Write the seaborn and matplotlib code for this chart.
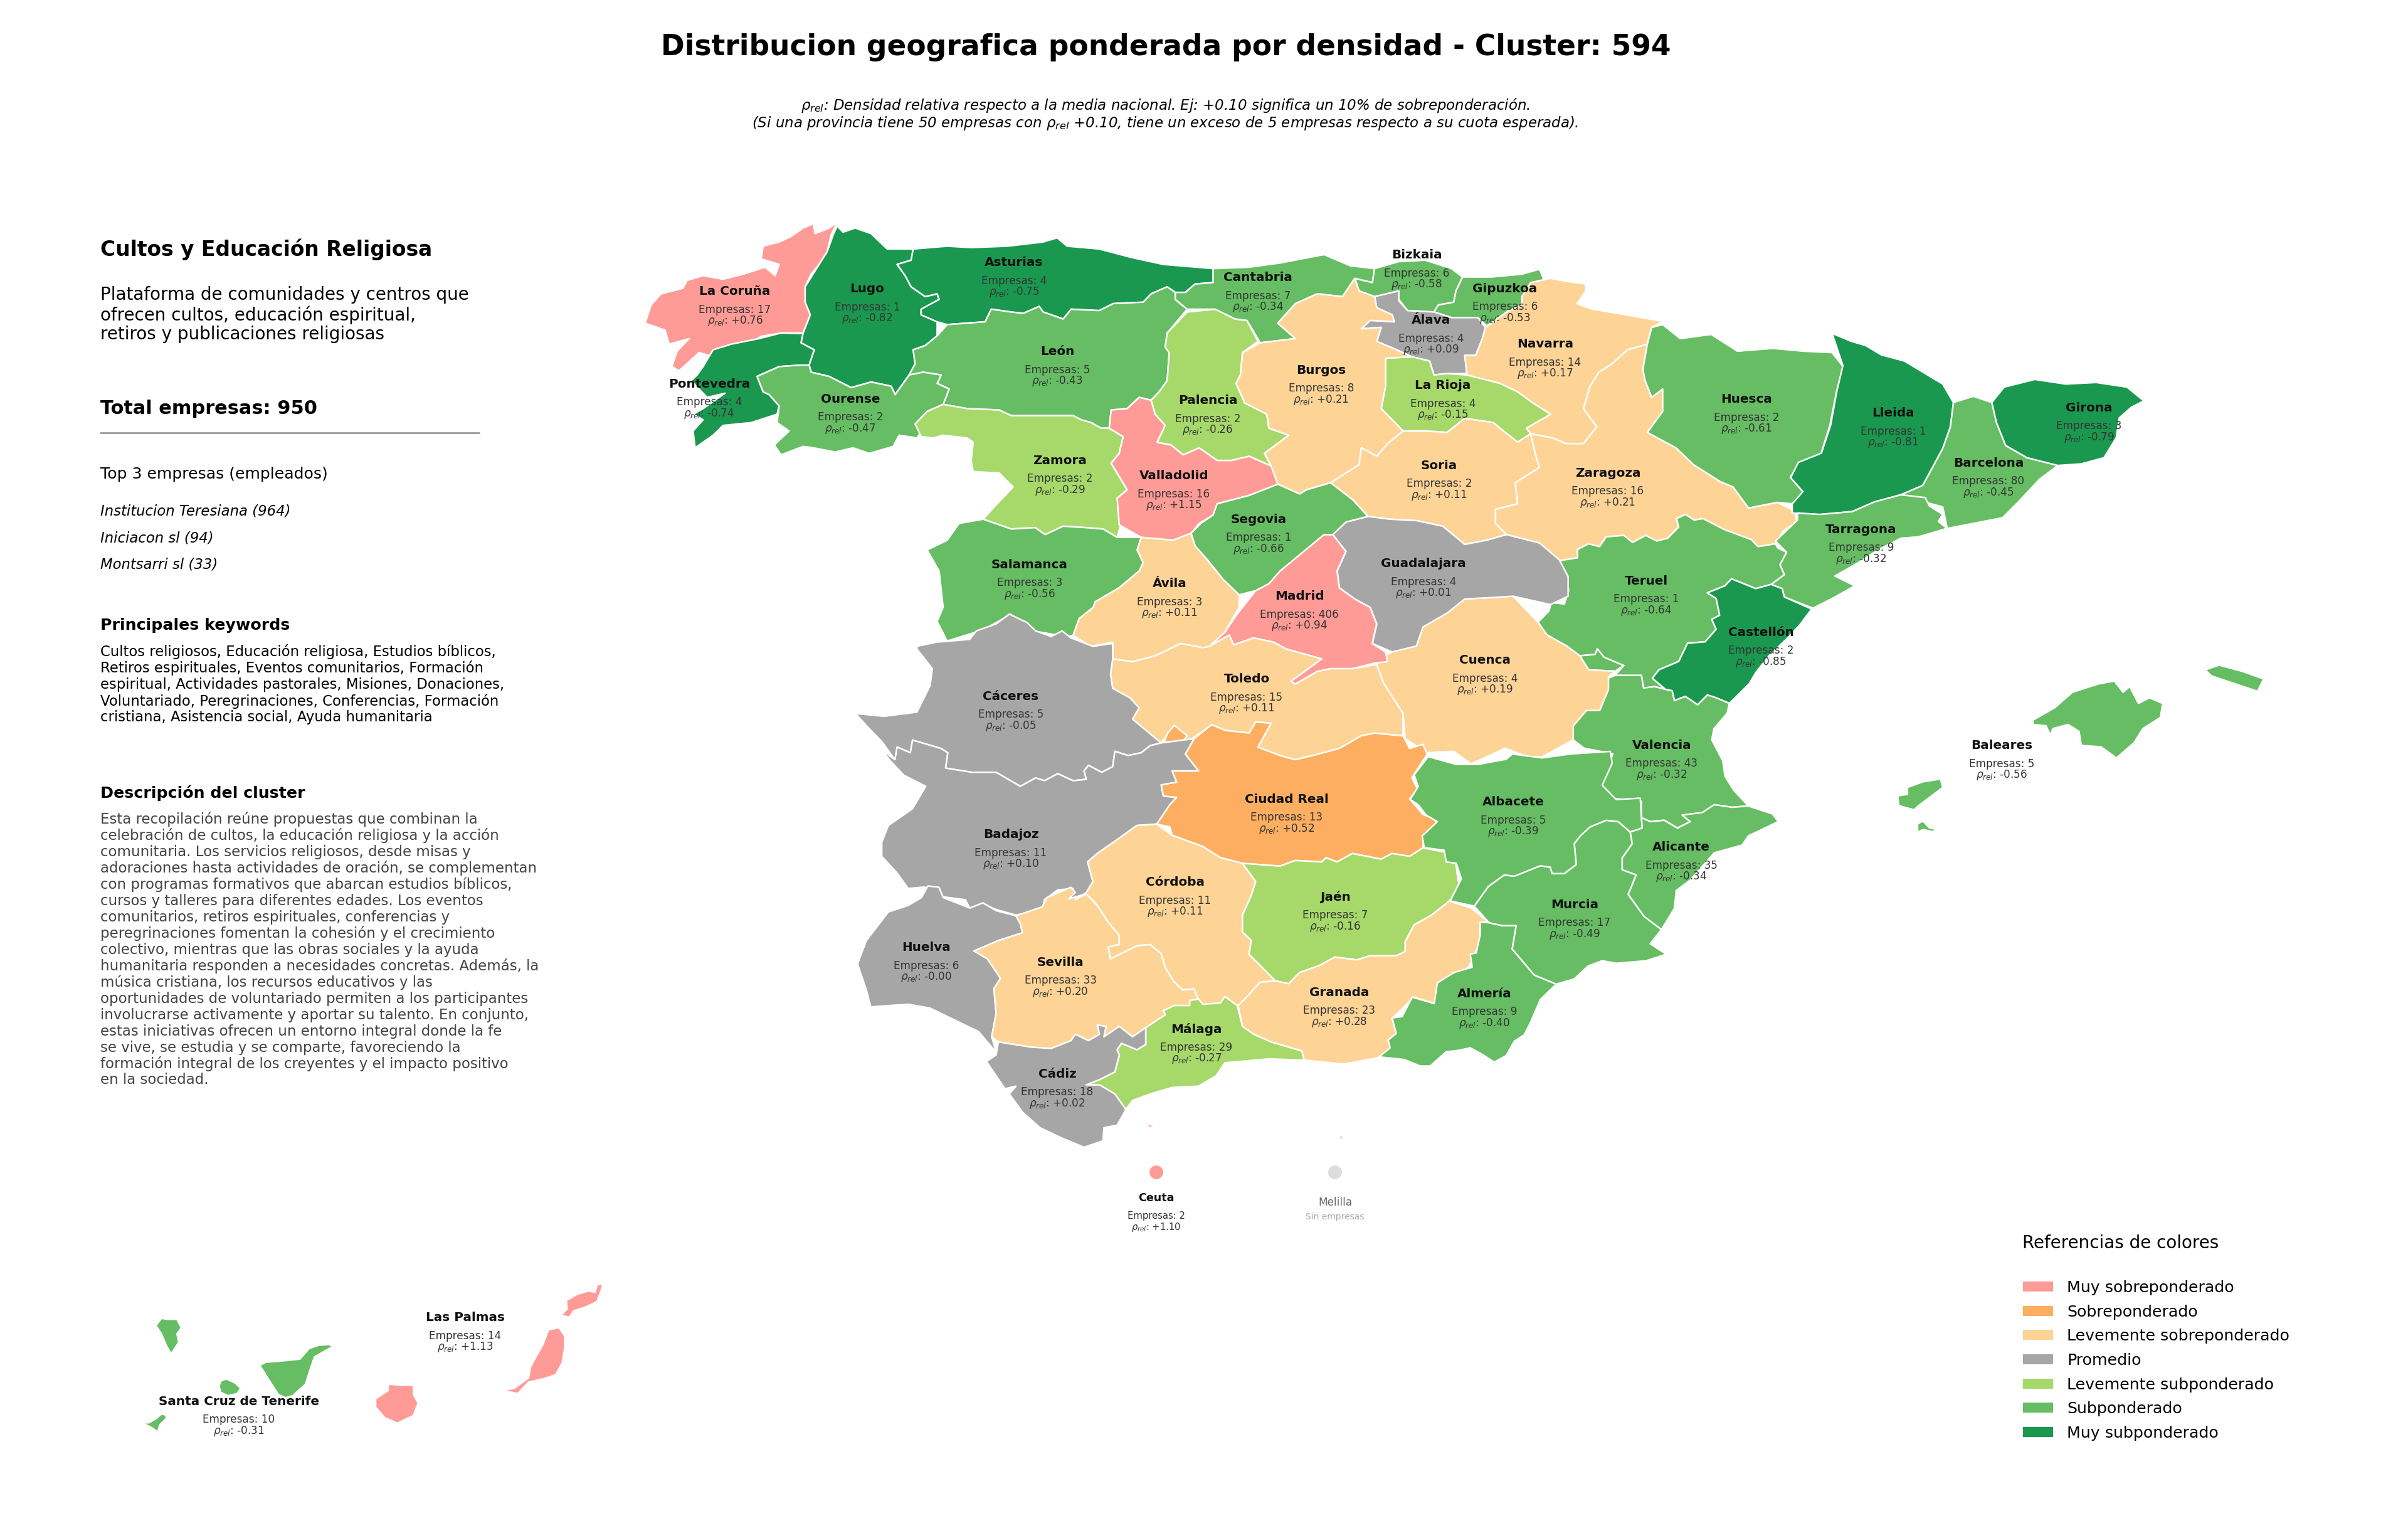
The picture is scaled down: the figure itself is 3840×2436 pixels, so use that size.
import matplotlib
matplotlib.use("Agg")
import matplotlib.pyplot as plt
from matplotlib.patches import Patch
import numpy as np
import pandas as pd
import seaborn as sns

# Outlines were traced by hand from enlarged crops of the map.
# A crop is (x0, y0, x scale, y scale) going from traced units to image pixels.
A = (1000, 330, 0.638, 0.4464)
B = (1950, 330, 0.7015, 0.4464)
C = (1350, 950, 0.7015, 0.4464)
D = (2400, 800, 0.7015, 0.4464)
E = (1350, 1400, 0.7015, 0.4145)
F = (2000, 1200, 0.638, 0.4145)
G = (180, 1950, 0.574, 0.3333)
K = (1750, 1780, 0.3333, 0.3333)
P = (0, 0, 2.449, 2.449)

la_coruna = [(525,55),(510,100),(500,160),(480,205),(460,240),(445,285),(447,340),(458,385),(440,450),(385,450),(335,462),(305,490),(250,495),(205,530),(180,520),(130,585),(112,570),(125,515),(155,470),(105,490),(95,440),(45,415),(60,350),(85,310),(140,290),(150,262),(190,245),(240,258),(290,240),(345,215),(370,245),(380,205),(335,185),(340,140),(380,125),(410,105),(440,75),(465,60),(470,95),(505,75)]
pontevedra = [(440,452),(435,485),(468,510),(455,565),(430,565),(380,570),(325,605),(340,660),(355,670),(380,710),(375,740),(310,770),(240,780),(215,815),(170,860),(165,800),(190,760),(165,740),(190,720),(245,665),(200,680),(160,620),(175,600),(190,570),(215,510),(260,490),(330,470),(385,450)]
lugo = [(525,68),(540,90),(570,75),(610,95),(650,150),(715,150),(710,190),(675,205),(695,245),(710,285),(745,320),(775,310),(780,330),(735,365),(735,385),(775,410),(775,460),(745,495),(715,510),(720,560),(705,600),(670,670),(660,640),(610,625),(560,645),(505,605),(460,590),(455,565),(468,510),(435,485),(440,450),(458,385),(445,340),(445,285),(480,205),(500,160),(515,100)]
asturias = [(715,150),(800,140),(860,145),(950,140),(1040,125),(1075,110),(1100,140),(1180,150),(1260,180),(1340,205),(1465,220),(1465,270),(1420,275),(1395,305),(1370,305),(1350,285),(1310,310),(1290,340),(1215,345),(1180,370),(1110,365),(1090,400),(1040,375),(1030,355),(990,380),(960,375),(910,365),(895,410),(800,420),(775,410),(735,385),(735,365),(780,330),(775,310),(745,320),(710,285),(695,245),(675,205),(710,190)]
leon = [(800,420),(895,410),(910,365),(960,375),(990,380),(1030,355),(1040,375),(1090,400),(1110,365),(1180,370),(1215,345),(1290,340),(1310,310),(1350,285),(1370,305),(1370,330),(1400,365),(1350,450),(1345,500),(1355,520),(1350,620),(1330,660),(1310,690),(1280,680),(1250,720),(1210,725),(1205,790),(1185,790),(1160,770),(1135,760),(1115,745),(1070,745),(990,745),(960,745),(930,725),(850,720),(790,705),(805,650),(775,630),(785,600),(740,590),(705,600),(720,560),(715,510),(745,495),(775,460)]
ourense = [(325,605),(380,570),(430,565),(455,565),(460,590),(505,605),(560,645),(610,625),(660,640),(670,670),(705,600),(740,590),(785,600),(775,630),(805,650),(790,705),(750,730),(720,775),(735,800),(725,825),(680,815),(665,855),(605,880),(565,860),(520,875),(465,860),(440,855),(385,885),(368,850),(405,800),(375,770),(380,710),(355,670),(340,660)]
zamora = [(790,705),(850,720),(930,725),(960,745),(990,745),(1070,745),(1115,745),(1135,760),(1160,770),(1185,790),(1205,790),(1240,820),(1230,880),(1210,915),(1250,1010),(1225,1040),(1235,1130),(1225,1180),(1190,1150),(1145,1145),(1090,1140),(1045,1170),(1020,1145),(960,1150),(890,1115),(915,1075),(965,1000),(930,950),(865,945),(860,905),(865,840),(850,825),(790,815),(765,825),(735,820),(720,775),(750,730)]
valladolid = [(1210,725),(1250,720),(1280,680),(1310,690),(1320,740),(1345,780),(1325,840),(1360,850),(1390,885),(1430,860),(1475,905),(1510,905),(1555,890),(1610,925),(1627,990),(1555,1030),(1475,1060),(1465,1100),(1430,1130),(1410,1165),(1365,1190),(1285,1180),(1230,1135),(1225,1040),(1250,1010),(1210,915),(1230,880),(1240,820),(1205,790)]
palencia = [(1400,375),(1470,365),(1520,400),(1549,405),(1577,480),(1538,520),(1533,600),(1522,630),(1544,700),(1599,740),(1604,790),(1654,815),(1593,880),(1610,925),(1555,890),(1510,905),(1475,905),(1430,860),(1390,885),(1360,850),(1325,840),(1345,780),(1320,740),(1310,690),(1330,660),(1350,620),(1355,520),(1345,500),(1350,450)]
salamanca = [(890,1115),(960,1150),(1020,1145),(1045,1170),(1090,1140),(1145,1145),(1190,1150),(1225,1180),(1285,1180),(1275,1225),(1290,1270),(1280,1300),(1230,1360),(1170,1410),(1165,1430),(1130,1470),(1115,1530),(1100,1535),(1000,1510),(960,1455),(890,1510),(800,1550),(775,1480),(790,1430),(780,1300),(750,1225),(800,1190),(830,1130)]
avila = [(1285,1180),(1365,1190),(1410,1165),(1420,1210),(1450,1260),(1490,1330),(1530,1385),(1530,1429),(1494,1519),(1456,1569),(1439,1574),(1384,1559),(1318,1604),(1263,1624),(1214,1614),(1214,1554),(1159,1569),(1115,1530),(1130,1470),(1165,1430),(1170,1410),(1230,1360),(1280,1300),(1290,1270),(1275,1225)]
cantabria = [(-22,220),(60,215),(130,200),(180,185),(230,170),(290,210),(345,220),(340,270),(300,255),(272,320),(215,310),(165,345),(125,415),(165,470),(85,485),(55,405),(28,400),(-17,365),(-81,365),(-108,330),(-108,305),(-85,305),(-63,275),(-22,270)]
bizkaia = [(345,220),(400,195),(460,190),(520,220),(545,250),(530,300),(525,340),(490,350),(480,375),(420,370),(400,330),(400,300),(345,320),(310,300),(300,255),(340,270)]
gipuzkoa = [(545,250),(610,250),(680,240),(720,222),(730,260),(700,270),(680,320),(680,350),(650,370),(600,425),(580,395),(520,395),(480,375),(490,350),(525,340),(530,300)]
alava = [(345,320),(400,300),(400,335),(420,370),(480,375),(520,395),(580,395),(597,430),(590,470),(575,530),(550,530),(555,595),(510,595),(480,600),(470,550),(430,535),(395,510),(350,480),(360,430),(315,435),(335,405),(390,410),(385,385),(350,360)]
navarra = [(680,320),(700,270),(745,255),(780,265),(825,275),(825,300),(805,345),(840,365),(880,375),(1000,408),(975,430),(965,490),(920,510),(885,560),(855,590),(835,640),(820,720),(850,785),(820,845),(780,845),(750,825),(700,810),(690,790),(745,740),(705,700),(670,660),(630,630),(555,600),(550,530),(575,530),(590,470),(597,430),(650,370),(680,350)]
la_rioja = [(370,540),(430,535),(470,550),(480,600),(510,595),(555,600),(630,630),(670,660),(705,700),(745,740),(690,790),(700,810),(670,840),(630,790),(615,770),(550,755),(510,805),(460,800),(440,800),(410,800),(360,720),(370,640)]
burgos = [(165,345),(215,310),(272,320),(300,255),(310,300),(345,320),(350,360),(385,385),(390,410),(335,405),(315,435),(360,430),(350,480),(395,510),(430,535),(370,540),(370,640),(360,720),(410,800),(375,845),(350,890),(315,860),(310,920),(270,960),(245,985),(190,1010),(175,1025),(125,990),(110,925),(95,880),(150,815),(105,790),(100,740),(50,700),(30,630),(40,600),(45,520),(85,485),(165,470),(125,415)]
soria = [(410,800),(440,800),(460,800),(510,805),(550,755),(615,770),(630,790),(670,840),(700,810),(710,880),(720,930),(665,985),(670,1060),(620,1080),(620,1130),(645,1170),(600,1190),(550,1205),(500,1140),(440,1120),(380,1115),(330,1105),(295,1045),(245,985),(270,960),(310,920),(315,860),(350,890),(375,845)]
zaragoza = [(700,810),(750,825),(780,845),(820,845),(850,785),(820,720),(835,640),(855,590),(885,560),(920,510),(965,490),(955,580),(960,620),(975,680),(1000,650),(1000,730),(965,805),(1030,860),(1070,920),(1130,980),(1160,1000),(1195,1075),(1260,1055),(1300,1085),(1305,1125),(1275,1155),(1256,1203),(1216,1213),(1201,1188),(1141,1153),(1091,1113),(1071,1118),(1051,1098),(1031,1113),(1036,1143),(1011,1183),(986,1193),(961,1173),(931,1198),(911,1173),(871,1178),(856,1213),(831,1203),(806,1223),(806,1253),(766,1263),(720,1200),(645,1170),(620,1130),(620,1080),(670,1060),(665,985),(720,930),(710,880)]
huesca = [(1000,420),(1040,470),(1110,455),(1170,515),(1250,505),(1320,515),(1385,520),(1410,570),(1395,660),(1380,780),(1360,880),(1310,915),(1290,965),(1320,1020),(1295,1060),(1260,1055),(1195,1075),(1160,1000),(1130,980),(1070,920),(1030,860),(965,805),(1000,730),(1000,650),(975,680),(960,620),(955,580),(965,490),(975,430)]
lleida = [(1193,217),(1205,222),(1215,225),(1225,231),(1240,235),(1255,244),(1265,250),(1272,262),(1270,278),(1265,292),(1258,305),(1252,316),(1238,322),(1220,327),(1206,333),(1185,335),(1167,334),(1167,328),(1174,320),(1166,311),(1171,301),(1186,295),(1192,277),(1196,255),(1200,238)]
barcelona = [(1272,262),(1285,258),(1297,262),(1300,275),(1306,290),(1320,298),(1340,303),(1328,312),(1314,327),(1304,337),(1268,344),(1265,330),(1254,327),(1238,322),(1252,316),(1258,305),(1265,292),(1270,278)]
girona = [(1297,262),(1305,252),(1325,247),(1345,250),(1365,249),(1385,252),(1396,261),(1388,265),(1380,272),(1378,285),(1370,298),(1355,302),(1340,303),(1320,298),(1306,290),(1300,275)]
tarragona = [(615,140),(665,65),(665,40),(715,45),(790,35),(840,0),(900,-25),(955,-15),(965,15),(995,45),(985,70),(1005,95),(940,125),(900,130),(850,170),(800,220),(750,265),(795,300),(750,340),(700,380),(635,340),(630,310),(605,295),(635,260),(625,225),(640,180)]
teruel = [(125,210),(165,200),(165,170),(190,150),(215,160),(230,125),(270,120),(290,145),(320,120),(345,140),(370,130),(395,90),(390,60),(410,45),(430,65),(450,60),(500,100),(560,135),(575,160),(615,150),(620,165),(640,180),(625,225),(635,260),(605,295),(570,310),(515,275),(500,300),(460,325),(480,345),(488,405),(470,420),(480,455),(455,500),(415,505),(395,570),(350,600),(335,630),(365,670),(340,660),(315,665),(310,620),(250,620),(270,585),(225,555),(210,525),(205,545),(170,550),(140,515),(95,475),(75,430),(100,390),(105,360),(135,365),(145,315),(125,240)]
castellon = [(515,275),(570,310),(605,295),(630,310),(635,340),(697,383),(670,440),(640,490),(600,550),(570,610),(555,650),(510,720),(480,700),(460,690),(438,725),(410,695),(385,710),(380,675),(365,670),(335,630),(350,600),(395,570),(415,505),(455,500),(480,455),(470,420),(488,405),(480,345),(460,325),(500,300)]
valencia = [(250,620),(310,620),(315,665),(340,660),(365,670),(380,675),(385,710),(410,695),(438,725),(460,690),(480,700),(510,720),(505,755),(475,810),(470,850),(495,925),(500,980),(520,1030),(553,1086),(517,1091),(476,1082),(449,1110),(403,1119),(421,1142),(392,1165),(362,1137),(330,1142),(310,1128),(310,1070),(250,1060),(220,1015),(245,900),(180,880),(155,850),(155,800),(185,745),(215,745),(235,670),(235,630)]
ademuz = [(170,550),(205,545),(210,525),(225,555),(270,585),(250,605),(190,600)]
cuenca = [(1228,210),(1255,190),(1295,179),(1310,111),(1365,61),(1405,11),(1465,6),(1515,1),(1572,94),(1592,139),(1637,179),(1667,214),(1687,264),(1747,269),(1732,289),(1732,334),(1712,409),(1682,409),(1652,464),(1652,514),(1582,574),(1547,574),(1497,544),(1420,600),(1380,555),(1320,560),(1270,510),(1265,420),(1220,310),(1205,245)]
guadalajara = [(250,1170),(280,1125),(330,1105),(380,1115),(440,1120),(500,1140),(550,1205),(600,1190),(645,1170),(720,1200),(765,1260),(785,1320),(785,1390),(745,1420),(660,1390),(610,1395),(550,1400),(510,1450),(455,1500),(440,1568),(385,1589),(340,1559),(350,1489),(335,1430),(300,1400),(265,1360),(260,1300),(280,1230)]
madrid = [(1105,-219),(1135,-159),(1115,-89),(1120,-29),(1155,11),(1190,41),(1205,100),(1195,170),(1225,200),(1230,235),(1200,240),(1150,260),(1100,260),(1070,270),(1020,315),(1010,305),(1080,225),(1000,190),(970,165),(925,150),(880,175),(870,140),(825,180),(860,130),(885,71),(930,-19),(960,-44),(985,-89),(1085,-219)]
segovia = [(125,990),(175,1025),(190,1010),(245,985),(295,1045),(330,1105),(280,1125),(250,1170),(230,1170),(130,1300),(105,1345),(75,1370),(37,1385),(1,1330),(-35,1260),(-63,1210),(-72,1165),(-50,1130),(-22,1100),(-13,1060),(60,1030)]
toledo = [(605,225),(650,235),(700,215),(760,170),(810,185),(825,180),(870,140),(880,175),(925,150),(970,165),(1000,190),(1080,225),(1010,305),(1020,315),(1070,270),(1100,260),(1150,260),(1205,245),(1220,310),(1265,420),(1265,500),(1200,490),(1170,500),(1120,545),(1060,570),(1020,585),(985,570),(935,540),(965,455),(930,450),(915,490),(860,480),(830,460),(790,505),(770,520),(745,465),(725,505),(715,525),(650,440),(665,400),(645,365),(605,330),(600,280)]
ciudad_real = [(790,510),(830,460),(860,480),(915,490),(930,450),(965,455),(935,540),(985,570),(1020,585),(1060,570),(1120,545),(1170,500),(1200,490),(1265,500),(1280,545),(1310,530),(1320,565),(1285,650),(1298,690),(1280,725),(1310,780),(1340,800),(1335,840),(1312,865),(1310,900),(1280,930),(1240,920),(1215,940),(1150,920),(1115,950),(1090,935),(1080,950),(1020,945),(985,965),(900,955),(850,935),(810,895),(740,855),(735,825),(705,815),(735,745),(750,720),(720,715),(715,675),(750,665),(740,625),(800,625),(770,565)]
ciudad_real_enclave = [(745,462),(775,500),(750,540),(720,530),(730,490)]
caceres = [(160,180),(205,165),(245,160),(280,155),(295,125),(340,100),(370,65),(410,95),(430,125),(465,145),(490,125),(510,150),(560,180),(605,170),(605,225),(600,280),(605,330),(645,365),(665,400),(650,440),(715,525),(690,535),(670,560),(640,570),(610,555),(605,610),(580,630),(550,605),(540,625),(545,655),(515,660),(480,635),(450,660),(430,650),(395,680),(340,630),(285,630),(225,615),(230,560),(215,545),(150,515),(145,560),(115,540),(110,585),(80,520),(55,480),(20,420),(85,430),(160,415),(190,320),(195,260),(160,190)]
badajoz = [(715,525),(790,510),(770,565),(800,625),(740,625),(750,665),(715,675),(720,715),(750,720),(735,745),(705,815),(660,820),(620,865),(570,920),(548,950),(560,1020),(545,1060),(520,1085),(505,1080),(515,1045),(480,1050),(450,1085),(445,1120),(385,1140),(340,1120),(310,1100),(280,1115),(270,1085),(220,1075),(205,1045),(175,1040),(140,1045),(115,990),(80,930),(80,880),(95,820),(150,760),(180,680),(130,640),(100,590),(80,550),(110,585),(115,540),(145,560),(150,515),(215,545),(230,560),(225,615),(285,630),(340,630),(395,680),(430,650),(450,660),(480,635),(515,660),(545,655),(540,625),(550,605),(580,630),(605,610),(610,555),(640,570),(670,560),(690,535)]
huelva = [(185,30),(210,35),(220,75),(280,115),(310,95),(340,125),(385,145),(395,175),(400,210),(345,240),(290,280),(320,310),(350,385),(335,425),(340,520),(330,610),(340,670),(300,590),(190,500),(140,485),(55,495),(45,430),(25,330),(45,240),(95,130),(140,105),(170,75)]
sevilla = [(385,145),(445,110),(455,75),(510,35),(520,55),(505,80),(545,60),(570,105),(595,170),(620,220),(620,255),(595,265),(600,310),(660,260),(690,255),(715,290),(725,345),(745,400),(765,430),(790,425),(800,470),(780,470),(780,490),(745,490),(720,510),(725,525),(680,575),(650,610),(620,570),(585,610),(590,570),(570,565),(575,600),(550,625),(520,600),(510,625),(465,655),(420,650),(345,630),(330,610),(340,520),(335,425),(350,385),(320,310),(290,280),(345,240),(400,210),(395,175)]
cordoba = [(660,820),(705,815),(740,855),(810,895),(850,935),(900,955),(930,1020),(920,1070),(900,1140),(900,1200),(920,1230),(915,1280),(975,1375),(940,1380),(905,1440),(890,1465),(860,1455),(850,1478),(810,1480),(800,1444),(790,1403),(765,1407),(745,1379),(725,1328),(715,1277),(690,1245),(660,1249),(600,1296),(595,1254),(620,1245),(620,1212),(595,1166),(570,1105),(545,1064),(520,1085),(545,1060),(560,1020),(548,950),(570,920),(620,865)]
jaen = [(900,955),(985,965),(1020,945),(1080,950),(1090,935),(1115,950),(1150,920),(1215,940),(1240,920),(1280,930),(1310,900),(1360,915),(1365,950),(1385,955),(1390,1015),(1395,1040),(1370,1090),(1330,1140),(1290,1175),(1270,1235),(1270,1270),(1250,1285),(1190,1285),(1160,1300),(1110,1290),(1075,1320),(1030,1345),(1005,1385),(975,1375),(915,1280),(920,1230),(900,1200),(900,1140),(920,1070),(930,1020)]
granada = [(975,1375),(1005,1385),(1030,1345),(1075,1320),(1110,1290),(1160,1300),(1190,1285),(1250,1285),(1270,1270),(1270,1235),(1290,1175),(1330,1140),(1370,1090),(1420,1115),(1455,1160),(1440,1190),(1440,1240),(1425,1285),(1415,1325),(1370,1365),(1340,1407),(1338,1456),(1290,1433),(1240,1509),(1250,1565),(1230,1588),(1240,1612),(1210,1649),(1130,1672),(1040,1658),(1035,1625),(965,1593),(925,1565),(900,1537),(890,1463),(905,1440),(940,1380)]
malaga = [(780,470),(800,465),(810,485),(850,480),(860,455),(888,490),(900,570),(925,600),(965,630),(1035,665),(1040,700),(960,695),(860,710),(840,760),(800,800),(740,805),(690,830),(650,855),(635,890),(610,830),(575,795),(545,795),(575,775),(610,745),(620,680),(615,660),(625,635),(660,660),(680,640),(680,575),(725,525),(720,510),(745,490),(780,490)]
cadiz = [(345,630),(420,650),(465,655),(510,625),(520,600),(550,625),(575,600),(570,565),(590,570),(585,610),(620,570),(650,610),(680,575),(680,640),(660,660),(625,635),(615,660),(620,680),(610,745),(575,775),(545,795),(575,795),(610,830),(635,890),(615,950),(585,960),(583,1010),(540,1035),(490,1000),(440,960),(400,900),(370,830),(385,800),(360,810),(340,760),(318,705),(340,680)]
almeria = [(565,650),(590,655),(620,665),(655,665),(645,755),(700,855),(755,890),(715,950),(690,1040),(675,1085),(650,1110),(630,1165),(600,1190),(570,1160),(540,1135),(510,1145),(480,1150),(440,1205),(415,1205),(375,1180),(312,1170),(340,1135),(335,1105),(355,1080),(345,1020),(370,1015),(395,940),(450,965),(458,885),(500,845),(545,825),(540,775),(555,770),(565,700)]
murcia = [(550,590),(585,515),(625,470),(650,475),(715,435),(740,440),(745,465),(775,465),(805,430),(800,350),(815,320),(815,300),(840,285),(880,260),(910,265),(940,305),(945,350),(920,405),(920,450),(955,470),(935,545),(975,630),(1018,680),(990,735),(1030,775),(980,800),(905,810),(870,800),(835,820),(800,870),(755,890),(700,855),(645,755),(655,665),(620,665),(590,655),(585,650)]
albacete = [(435,15),(505,45),(560,45),(630,25),(645,5),(720,20),(790,5),(890,-5),(895,40),(870,125),(905,180),(965,175),(968,250),(970,290),(940,305),(910,265),(880,260),(840,285),(815,320),(800,350),(805,430),(775,465),(745,465),(740,440),(715,435),(650,475),(625,470),(585,515),(550,590),(490,570),(518,485),(505,425),(480,420),(475,375),(425,365),(420,320),(458,265),(430,240),(410,200),(390,180),(410,130),(400,85)]
alicante = [(968,250),(990,265),(1025,260),(1058,290),(1090,265),(1070,240),(1120,230),(1150,200),(1195,210),(1235,205),(1295,235),(1310,265),(1235,320),(1220,355),(1150,385),(1090,490),(1055,530),(1050,600),(1018,680),(975,630),(935,545),(955,470),(920,450),(920,405),(945,350),(940,305),(970,290)]
mallorca = [(1200,780),(1250,735),(1290,680),(1350,650),(1385,640),(1405,680),(1420,660),(1440,720),(1465,700),(1495,720),(1490,770),(1450,810),(1430,860),(1390,915),(1355,875),(1310,870),(1305,820),(1280,795),(1245,810),(1240,835),(1230,800),(1200,795)]
menorca = [(1436,436),(1445,433),(1460,437),(1474,442),(1470,450),(1455,445),(1440,440)]
ibiza = [(893,1050),(915,1045),(915,1020),(950,1000),(990,990),(995,1020),(970,1050),(940,1085),(930,1100),(895,1085)]
formentera = [(938,1150),(950,1140),(965,1165),(985,1170),(970,1178),(950,1170),(938,1180)]
la_palma = [(120,490),(135,455),(150,460),(178,460),(190,500),(178,530),(183,570),(162,625),(150,590),(135,530)]
gomera = [(300,755),(315,745),(340,765),(355,790),(345,815),(320,825),(300,810),(295,780)]
tenerife = [(408,680),(425,665),(465,660),(520,650),(545,600),(570,585),(600,580),(612,590),(590,610),(560,640),(550,690),(535,770),(500,825),(480,835),(460,820),(430,740)]
hierro = [(80,955),(100,955),(120,935),(135,913),(148,918),(148,935),(130,965),(125,998),(105,975)]
gran_canaria = [(765,770),(800,775),(835,775),(835,820),(848,860),(835,920),(790,957),(755,930),(730,880),(730,840),(765,800)]
fuerteventura = [(1210,510),(1240,500),(1255,540),(1255,600),(1248,670),(1230,725),(1195,745),(1155,760),(1125,815),(1082,800),(1115,790),(1155,740),(1160,690),(1175,640),(1195,580)]
lanzarote = [(1245,440),(1262,410),(1260,370),(1290,340),(1320,325),(1340,330),(1345,295),(1362,290),(1355,330),(1345,375),(1315,400),(1280,420),(1268,450)]
graciosa = [(1340,275),(1345,258),(1348,270)]
ceuta_mark = [(242,37),(265,47),(250,48)]
melilla_mark = [(1160,100),(1166,90),(1174,103),(1166,110)]

# Values printed on the map
names = ["La Coruña", "Pontevedra", "Lugo", "Asturias", "León", "Ourense", "Zamora", "Valladolid", "Palencia",
         "Salamanca", "Ávila", "Cantabria", "Bizkaia", "Gipuzkoa", "Álava", "Navarra", "La Rioja", "Burgos",
         "Soria", "Zaragoza", "Huesca", "Lleida", "Barcelona", "Girona", "Tarragona", "Teruel", "Castellón",
         "Valencia", "Cuenca", "Guadalajara", "Madrid", "Segovia", "Toledo", "Ciudad Real", "Cáceres", "Badajoz",
         "Huelva", "Sevilla", "Córdoba", "Jaén", "Granada", "Málaga", "Cádiz", "Almería", "Murcia", "Albacete",
         "Alicante", "Baleares", "Santa Cruz de Tenerife", "Las Palmas"]
empresas = [17, 4, 1, 4, 5, 2, 2, 16, 2,
            3, 3, 7, 6, 6, 4, 14, 4, 8,
            2, 16, 2, 1, 80, 3, 9, 1, 2,
            43, 4, 4, 406, 1, 15, 13, 5, 11,
            6, 33, 11, 7, 23, 29, 18, 9, 17, 5,
            35, 5, 10, 14]
rho_rel = [0.76, -0.74, -0.82, -0.75, -0.43, -0.47, -0.29, 1.15, -0.26,
           -0.56, 0.11, -0.34, -0.58, -0.53, 0.09, 0.17, -0.15, 0.21,
           0.11, 0.21, -0.61, -0.81, -0.45, -0.79, -0.32, -0.64, -0.85,
           -0.32, 0.19, 0.01, 0.94, -0.66, 0.11, 0.52, -0.05, 0.10,
           -0.0, 0.20, 0.11, -0.16, 0.28, -0.27, 0.02, -0.40, -0.49, -0.39,
           -0.34, -0.56, -0.31, 1.13]
label_x = [1172, 1131, 1383, 1617, 1686, 1356, 1690, 1872, 1926,
           1642, 1865, 2006, 2259, 2400, 2282, 2464, 2301, 2107,
           2295, 2564, 2785, 3019, 3171, 3331, 2968, 2625, 2808,
           2650, 2368, 2270, 2072, 2007, 1988, 2052, 1612, 1612,
           1477, 1691, 1874, 2129, 2136, 1908, 1686, 2367, 2511, 2413,
           2681, 3192, 381, 742]
label_y = [465, 612, 461, 419, 561, 636, 734, 759, 639,
           900, 931, 443, 407, 460, 511, 549, 615, 590,
           742, 754, 637, 659, 738, 650, 844, 926, 1008,
           1188, 1053, 899, 951, 828, 1083, 1274, 1110, 1331,
           1511, 1534, 1407, 1430, 1582, 1641, 1712, 1584, 1442, 1279,
           1351, 1189, 2234, 2101]

outlines = [[(A, la_coruna)], [(A, pontevedra)], [(A, lugo)], [(A, asturias)], [(A, leon)], [(A, ourense)],
            [(A, zamora)], [(A, valladolid)], [(A, palencia)], [(A, salamanca)], [(A, avila)], [(B, cantabria)],
            [(B, bizkaia)], [(B, gipuzkoa)], [(B, alava)], [(B, navarra)], [(B, la_rioja)], [(B, burgos)],
            [(B, soria)], [(B, zaragoza)], [(B, huesca)], [(P, lleida)], [(P, barcelona)], [(P, girona)],
            [(D, tarragona)], [(D, teruel)], [(D, castellon)], [(D, valencia), (D, ademuz)], [(C, cuenca)], [(B, guadalajara)],
            [(C, madrid)], [(B, segovia)], [(C, toledo)], [(C, ciudad_real), (C, ciudad_real_enclave)], [(C, caceres)],
            [(C, badajoz)], [(E, huelva)], [(E, sevilla)], [(C, cordoba)], [(C, jaen)], [(C, granada)], [(E, malaga)],
            [(E, cadiz)], [(F, almeria)], [(F, murcia)], [(F, albacete)], [(F, alicante)],
            [(D, mallorca), (P, menorca), (D, ibiza), (D, formentera)],
            [(G, la_palma), (G, gomera), (G, tenerife), (G, hierro)],
            [(G, gran_canaria), (G, fuerteventura), (G, lanzarote), (G, graciosa)]]

legend_labels = ["Muy sobreponderado", "Sobreponderado", "Levemente sobreponderado", "Promedio",
                 "Levemente subponderado", "Subponderado", "Muy subponderado"]
legend_colors = ["#ff9b96", "#fdae61", "#fdd396", "#a6a6a6", "#a6d96a", "#66bd63", "#1a9850"]

top_companies = ["Institucion Teresiana (964)", "Iniciacon sl (94)", "Montsarri sl (33)"]
top_y = [815, 858, 900]
tagline = ["Plataforma de comunidades y centros que", "ofrecen cultos, educación espiritual,",
           "retiros y publicaciones religiosas"]
tagline_y = [470, 502, 533]
keywords = ["Cultos religiosos, Educación religiosa, Estudios bíblicos,",
            "Retiros espirituales, Eventos comunitarios, Formación",
            "espiritual, Actividades pastorales, Misiones, Donaciones,",
            "Voluntariado, Peregrinaciones, Conferencias, Formación",
            "cristiana, Asistencia social, Ayuda humanitaria"]
description = ["Esta recopilación reúne propuestas que combinan la",
               "celebración de cultos, la educación religiosa y la acción",
               "comunitaria. Los servicios religiosos, desde misas y",
               "adoraciones hasta actividades de oración, se complementan",
               "con programas formativos que abarcan estudios bíblicos,",
               "cursos y talleres para diferentes edades. Los eventos",
               "comunitarios, retiros espirituales, conferencias y",
               "peregrinaciones fomentan la cohesión y el crecimiento",
               "colectivo, mientras que las obras sociales y la ayuda",
               "humanitaria responden a necesidades concretas. Además, la",
               "música cristiana, los recursos educativos y las",
               "oportunidades de voluntariado permiten a los participantes",
               "involucrarse activamente y aportar su talento. En conjunto,",
               "estas iniciativas ofrecen un entorno integral donde la fe",
               "se vive, se estudia y se comparte, favoreciendo la",
               "formación integral de los creyentes y el impacto positivo",
               "en la sociedad."]


def to_px(crop, pts):
    x0, y0, sx, sy = crop
    pts = np.array(pts, dtype=float)
    return x0 + pts[:, 0] * sx, y0 + pts[:, 1] * sy


def rho_color(rho):
    if rho >= 0.7:
        return legend_colors[0]
    if rho >= 0.3:
        return legend_colors[1]
    if rho > 0.1:
        return legend_colors[2]
    if rho >= -0.1:
        return legend_colors[3]
    if rho > -0.3:
        return legend_colors[4]
    if rho > -0.7:
        return legend_colors[5]
    return legend_colors[6]


sns.set_theme(style="white", rc={"font.family": "DejaVu Sans"})
fig = plt.figure(figsize=(19.2, 12.18), dpi=200, facecolor="white")
ax = fig.add_axes([0, 0, 1, 1])
ax.set_xlim(0, 3840)
ax.set_ylim(2436, 0)
ax.axis("off")

for i, parts in enumerate(outlines):
    for crop, pts in parts:
        xs, ys = to_px(crop, pts)
        ax.fill(xs, ys, facecolor=rho_color(rho_rel[i]), edgecolor="white", linewidth=0.9, joinstyle="round", zorder=2)

# Province labels
for name, n, rho, x, y in zip(names, empresas, rho_rel, label_x, label_y):
    ax.text(x, y, name, ha="center", va="center", fontsize=7.2, fontweight="bold", color="#111111", zorder=5)
    ax.text(x, y + 29, f"Empresas: {n}", ha="center", va="center", fontsize=6.1, color="#333333", zorder=5)
    ax.text(x, y + 47, rf"$\rho_{{rel}}$: {rho:+.2f}", ha="center", va="center", fontsize=6.1, color="#333333", zorder=5)

# Ceuta and Melilla, small marks plus the enlarged dots below
xs, ys = to_px(K, ceuta_mark)
ax.fill(xs, ys, color=legend_colors[0], lw=0)
xs, ys = to_px(K, melilla_mark)
ax.fill(xs, ys, color="#dddddd", lw=0)
city_dots = pd.DataFrame({"x": [1844, 2129], "y": [1869, 1869], "city": ["Ceuta", "Melilla"]})
sns.scatterplot(data=city_dots, x="x", y="y", hue="city", palette=[legend_colors[0], "#dddddd"],
                s=62, linewidth=0, legend=False, ax=ax, zorder=3)
ax.set_xlim(0, 3840)
ax.set_ylim(2436, 0)
ax.text(1844, 1910, "Ceuta", ha="center", va="center", fontsize=6.3, fontweight="bold", color="#111111")
ax.text(1844, 1939, "Empresas: 2", ha="center", va="center", fontsize=5.3, color="#333333")
ax.text(1844, 1957, r"$\rho_{rel}$: +1.10", ha="center", va="center", fontsize=5.3, color="#333333")
ax.text(2129, 1917, "Melilla", ha="center", va="center", fontsize=6.1, color="#666666")
ax.text(2129, 1940, "Sin empresas", ha="center", va="center", fontsize=5.0, color="#aaaaaa")

# Title block
ax.text(1859, 75, "Distribucion geografica ponderada por densidad - Cluster: 594", ha="center", va="center",
        fontsize=16.4, fontweight="bold", color="black")
ax.text(1858, 168, r"$\rho_{rel}$: Densidad relativa respecto a la media nacional. Ej: +0.10 significa un 10% de sobreponderación.",
        ha="center", va="center", fontsize=8.24, style="italic", color="black")
ax.text(1858, 196, r"(Si una provincia tiene 50 empresas con $\rho_{rel}$ +0.10, tiene un exceso de 5 empresas respecto a su cuota esperada).",
        ha="center", va="center", fontsize=8.24, style="italic", color="black")

# Left panel
LEFT = 160
ax.text(LEFT, 398, "Cultos y Educación Religiosa", va="center", fontsize=11.85, fontweight="bold", color="black")
for line, y in zip(tagline, tagline_y):
    ax.text(LEFT, y, line, va="center", fontsize=10.0, color="black")
ax.text(LEFT, 652, "Total empresas: 950", va="center", fontsize=10.95, fontweight="bold", color="black")
ax.plot([LEFT, 764], [690, 690], color="#999999", lw=1.0)
ax.text(LEFT, 756, "Top 3 empresas (empleados)", va="center", fontsize=9.07, color="black")
for line, y in zip(top_companies, top_y):
    ax.text(LEFT, y, line, va="center", fontsize=8.2, style="italic", color="black")
ax.text(LEFT, 997, "Principales keywords", va="center", fontsize=9.1, fontweight="bold", color="black")
for i, line in enumerate(keywords):
    ax.text(LEFT, 1039 + i * 26.2, line, va="center", fontsize=8.2, color="black")
ax.text(LEFT, 1264, "Descripción del cluster", va="center", fontsize=9.1, fontweight="bold", color="black")
for i, line in enumerate(description):
    ax.text(LEFT, 1306 + i * 26.0, line, va="center", fontsize=8.24, color="#444444")

# Legend
ax.text(3225, 1982, "Referencias de colores", va="center", fontsize=10.0, color="black")
handles = [Patch(facecolor=c, edgecolor="none") for c in legend_colors]
ax.legend(handles, legend_labels, loc="upper left", bbox_to_anchor=(3226 / 3840, 1 - 2041 / 2436), frameon=False,
          fontsize=9.1, borderpad=0, borderaxespad=0, handlelength=1.9, handleheight=0.6, handletextpad=0.87,
          labelspacing=0.58, labelcolor="black")

plt.savefig("out.png", dpi=200, facecolor="white")
plt.close()
